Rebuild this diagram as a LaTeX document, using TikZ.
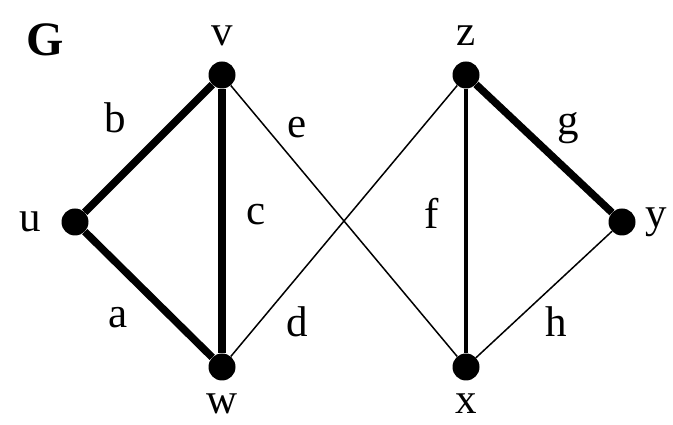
\documentclass[tikz,border=0pt]{standalone}
\usepackage{fontspec}
\setmainfont{Liberation Serif}
\usepackage{tikz}
\usetikzlibrary{positioning}

\begin{document}
\begin{tikzpicture}[
x=1pt,y=1pt,
vertex/.style={
circle,
fill=black,
inner sep=0pt,
minimum size=27pt
},
lbl/.style={
font=\fontsize{43}{47}\selectfont,
inner sep=0pt
},
heavy/.style={line width=7.5pt},
medium/.style={line width=3.5pt},
light/.style={line width=1.5pt}
]

\useasboundingbox (0,0) rectangle (673,425);

\node[lbl,font=\fontsize{48}{52}\selectfont\bfseries] (gname) at (45,385) {G};

\node[vertex] (u) at (75,203) {};
\node[vertex] (v) at (222,350) {};
\node[vertex] (w) at (222,58) {};
\node[vertex] (z) at (466,350) {};
\node[vertex] (x) at (466,58) {};
\node[vertex] (y) at (622,203) {};

\node[lbl] (ulbl) at (30,203) {u};
\node[lbl] (vlbl) at (222,389) {v};
\node[lbl] (wlbl) at (222,21) {w};
\node[lbl] (zlbl) at (466,389) {z};
\node[lbl] (xlbl) at (466,21) {x};
\node[lbl] (ylbl) at (656,203) {y};

\draw[heavy] (u) -- (v);
\draw[heavy] (u) -- (w);
\draw[heavy] (v) -- (w);
\draw[light] (v) -- (x);
\draw[light] (w) -- (z);
\draw[medium] (z) -- (x);
\draw[heavy] (z) -- (y);
\draw[light] (x) -- (y);

\node[lbl] (blbl) at (115,307) {b};
\node[lbl] (albl) at (118,107) {a};
\node[lbl] (clbl) at (256,210) {c};
\node[lbl] (elbl) at (297,297) {e};
\node[lbl] (dlbl) at (297,103) {d};
\node[lbl] (flbl) at (432,212) {f};
\node[lbl] (glbl) at (568,297) {g};
\node[lbl] (hlbl) at (556,103) {h};

\end{tikzpicture}
\end{document}
